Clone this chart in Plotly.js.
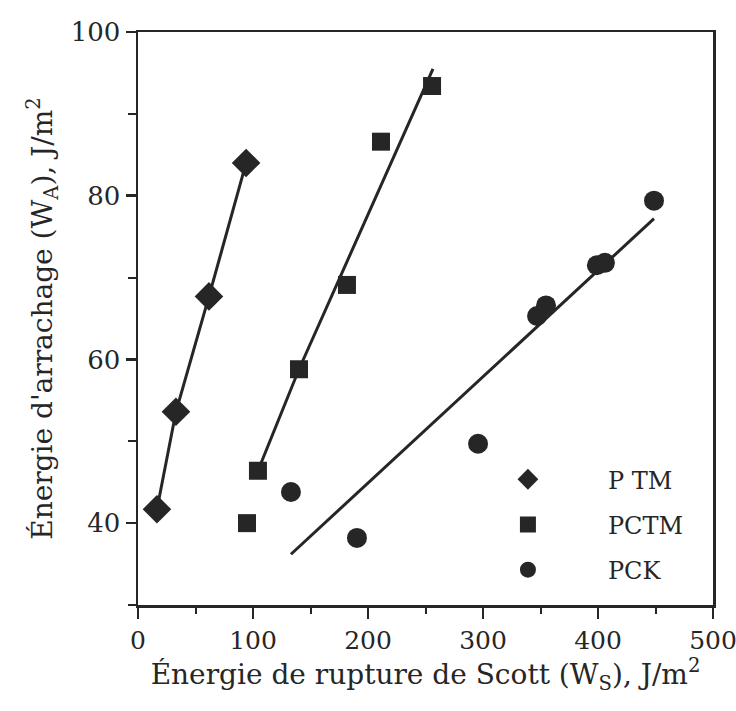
<!DOCTYPE html>
<html>
<head>
<meta charset="utf-8">
<script src="https://cdn.plot.ly/plotly-3.0.1.min.js"></script>
<style>html,body{margin:0;padding:0;background:#fff;}#chart{width:736px;height:711px;}</style>
</head>
<body>
<div id="chart"></div>
<script>
// PTM (diamonds)
const ptmX = [16.5, 33, 61.7, 94];
const ptmY = [41.7, 53.6, 67.7, 84.0];
// PCTM (squares)
const pctmX = [94.8, 104.3, 140, 181.7, 211.3, 255.7];
const pctmY = [40.0, 46.4, 58.8, 69.1, 86.6, 93.4];
const pctmFitX = [104.3, 140, 256.5];
const pctmFitY = [46.4, 58.8, 95.5];
// PCK (circles)
const pckX = [133, 190.4, 295.7, 347, 354.8, 399, 406, 448.7];
const pckY = [43.8, 38.2, 49.7, 65.3, 66.6, 71.5, 71.8, 79.4];
const pckFitX = [133, 448.7];
const pckFitY = [36.2, 77.2];

const seriesNames = ['P TM', 'PCTM', 'PCK'];
const ink = '#262626';
const fontFam = '"DejaVu Serif", "Liberation Serif", serif';

const traces = [
  {x: ptmX, y: ptmY, mode: 'lines', line: {color: ink, width: 3}, showlegend: false, hoverinfo: 'skip'},
  {x: pctmFitX, y: pctmFitY, mode: 'lines', line: {color: ink, width: 3}, showlegend: false, hoverinfo: 'skip'},
  {x: pckFitX, y: pckFitY, mode: 'lines', line: {color: ink, width: 3}, showlegend: false, hoverinfo: 'skip'},
  {x: ptmX, y: ptmY, mode: 'markers', name: seriesNames[0], legendgroup: 'a',
   marker: {symbol: 'diamond', size: 22, color: ink}},
  {x: pctmX, y: pctmY, mode: 'markers', name: seriesNames[1], legendgroup: 'b',
   marker: {symbol: 'square', size: 18, color: ink}},
  {x: pckX, y: pckY, mode: 'markers', name: seriesNames[2], legendgroup: 'c',
   marker: {symbol: 'circle', size: 20, color: ink}}
];

const layout = {
  width: 736, height: 711,
  margin: {l: 138, r: 23, t: 32, b: 106},
  paper_bgcolor: '#fff', plot_bgcolor: '#fff',
  font: {family: fontFam, color: ink, size: 26},
  showlegend: true,
  legend: {x: 0.539, y: 0.258, xanchor: 'left', yanchor: 'top', bgcolor: 'rgba(0,0,0,0)',
    font: {family: fontFam, size: 24, color: ink}, itemwidth: 150, tracegroupgap: 11},
  xaxis: {
    range: [0, 500], tickvals: [0, 100, 200, 300, 400, 500],
    ticks: 'outside', ticklen: 11, tickwidth: 2.5, tickcolor: ink,
    ticklabeloverflow: 'allow',
    minor: {dtick: 50, ticks: 'outside', ticklen: 6, tickwidth: 2, tickcolor: ink},
    showline: true, linewidth: 2.5, linecolor: ink, mirror: true,
    showgrid: false, zeroline: false,
    tickfont: {family: fontFam, size: 25, color: ink},
    title: {text: 'Énergie de rupture de Scott (W<sub>S</sub>), J/m<sup>2</sup>', standoff: 10,
      font: {family: fontFam, size: 28, color: ink}}
  },
  yaxis: {
    range: [30, 100], tickvals: [40, 60, 80, 100],
    ticks: 'outside', ticklen: 10, tickwidth: 2.5, tickcolor: ink,
    minor: {tickvals: [30, 50, 70, 90], ticks: 'outside', ticklen: 8, tickwidth: 2, tickcolor: ink},
    showline: true, linewidth: 2.5, linecolor: ink, mirror: true,
    showgrid: false, zeroline: false,
    tickfont: {family: fontFam, size: 26, color: ink},
    title: {text: 'Énergie d\'arrachage (W<sub>A</sub>), J/m<sup>2</sup>', standoff: 10,
      font: {family: fontFam, size: 28, color: ink}}
  }
};

Plotly.newPlot('chart', traces, layout, {displayModeBar: false, staticPlot: true});
</script>
</body>
</html>
